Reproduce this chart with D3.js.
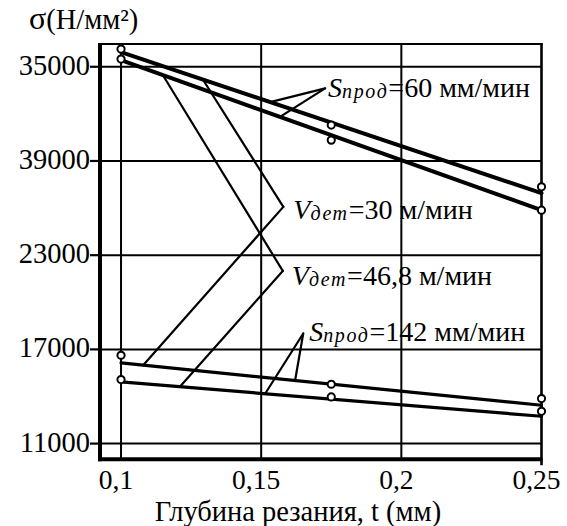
<!DOCTYPE html>
<html>
<head>
<meta charset="utf-8">
<script src="https://cdn.jsdelivr.net/npm/d3@7"></script>
<style>
  html, body { margin: 0; padding: 0; background: #fff; }
  svg { display: block; }
  svg text { font-family: "Liberation Serif", "Times New Roman", serif; fill: #000; }
</style>
</head>
<body>
<div id="chart"></div>
<script>
// ---------- data ----------
const depth = [0.1, 0.175, 0.25];                 // t, mm (measured points)
const xTicks = [0.1, 0.15, 0.2, 0.25];
const yTicks = [11000, 17000, 23000, 29000, 35000];
const yTickLabels = ["11000", "17000", "23000", "39000", "35000"]; // as printed

// measured points (circles)
const s60a  = [36127, 31284, 27352];
const s60b  = [35490, 30328, 25868];
const s142a = [16627, 14779, 13868];
const s142b = [15079, 13970, 13058];

// straight lines drawn through the points (values at t = 0.1 and t = 0.25)
const lineT = [0.1, 0.25];
const fitS60a  = [35936, 26951];
const fitS60b  = [35426, 25868];
const fitS142a = [16136, 13441];
const fitS142b = [14926, 12740];

// annotation labels
const labelMain = ["S", "V", "V", "S"];
const labelSub  = ["прод", "дет", "дет", "прод"];
const labelRest = ["=60 мм/мин", "=30 м/мин", "=46,8 м/мин", "=142 мм/мин"];
// apex of each leader (t, sigma)
const apexT = [0.1728, 0.1579, 0.1577, 0.1650];
const apexV = [33623, 26078, 21999, 18010];
// leader targets: which fitted line and at which t
const leaderLine = [["a60", "b60"], ["a60", "a142"], ["b60", "b142"], ["a142", "b142"]];
const leaderT    = [[0.1532, 0.1567], [0.1292, 0.1079], [0.1149, 0.1210], [0.1621, 0.1514]];

const xTitle = "Глубина резания, t (мм)";
const yTitle = "(Н/мм²)";

// ---------- layout ----------
const W = 567, H = 526;
const L = 100, R = 541.5, T = 44, B = 459.3;

const svg = d3.select("#chart").append("svg").attr("width", W).attr("height", H);

const x = d3.scaleLinear().domain([0.0925, 0.25]).range([L, R]);
const y = d3.scaleLinear().domain([10000, 36450]).range([B, T]);

const fits = { a60: fitS60a, b60: fitS60b, a142: fitS142a, b142: fitS142b };
const fitAt = (key, t) => d3.scaleLinear().domain(lineT).range(fits[key])(t);

// grid
const g = svg.append("g");
g.selectAll("line.hg").data(yTicks).join("line")
  .attr("class", "hg")
  .attr("x1", L).attr("x2", R)
  .attr("y1", d => y(d)).attr("y2", d => y(d))
  .attr("stroke", "#000").attr("stroke-width", 2);
g.selectAll("line.vg").data(xTicks.slice(0, 3)).join("line")
  .attr("class", "vg")
  .attr("x1", d => x(d)).attr("x2", d => x(d))
  .attr("y1", T).attr("y2", B)
  .attr("stroke", "#000").attr("stroke-width", 2);

// left ticks
g.selectAll("line.yt").data(yTicks).join("line")
  .attr("class", "yt")
  .attr("x1", L - 10).attr("x2", L)
  .attr("y1", d => y(d)).attr("y2", d => y(d))
  .attr("stroke", "#000").attr("stroke-width", 2.2);

// frame
g.append("line").attr("x1", L).attr("x2", R + 1).attr("y1", T).attr("y2", T)
  .attr("stroke", "#000").attr("stroke-width", 2.2);
g.append("line").attr("x1", R).attr("x2", R).attr("y1", T - 1).attr("y2", B + 6)
  .attr("stroke", "#000").attr("stroke-width", 2.6);
g.append("line").attr("x1", L).attr("x2", L).attr("y1", T - 1).attr("y2", B + 2)
  .attr("stroke", "#000").attr("stroke-width", 4);
g.append("line").attr("x1", L - 2).attr("x2", R + 1).attr("y1", B).attr("y2", B)
  .attr("stroke", "#000").attr("stroke-width", 4);

// tick labels
svg.selectAll("text.yl").data(yTicks).join("text")
  .attr("class", "yl")
  .attr("x", L - 10).attr("y", d => y(d) + 8)
  .attr("text-anchor", "end").attr("font-size", 28.5)
  .text((d, i) => yTickLabels[i]);
svg.selectAll("text.xl").data(xTicks).join("text")
  .attr("class", "xl")
  .attr("x", d => x(d) - 5).attr("y", 489)
  .attr("text-anchor", "middle").attr("font-size", 27.5)
  .text(d => String(d).replace(".", ","));

// titles
svg.append("text").attr("x", 298).attr("y", 521).attr("text-anchor", "middle")
  .attr("font-size", 28.5).text(xTitle);
const yt = svg.append("text").attr("x", 29).attr("y", 29).attr("font-size", 28.5);
yt.append("tspan").attr("font-size", 32).text("σ");
yt.append("tspan").text(yTitle);

// fitted lines
const fitList = [
  { f: fitS60a, w: 4 }, { f: fitS60b, w: 4 },
  { f: fitS142a, w: 3.2 }, { f: fitS142b, w: 3.2 }
];
svg.selectAll("line.fit").data(fitList).join("line")
  .attr("class", "fit")
  .attr("x1", x(lineT[0])).attr("x2", x(lineT[1]))
  .attr("y1", d => y(d.f[0])).attr("y2", d => y(d.f[1]))
  .attr("stroke", "#000").attr("stroke-width", d => d.w).attr("stroke-linecap", "round");

// leaders
const leaders = [];
apexT.forEach((at, i) => {
  leaderLine[i].forEach((key, j) => {
    const tt = leaderT[i][j];
    leaders.push({ x1: x(at), y1: y(apexV[i]), x2: x(tt), y2: y(fitAt(key, tt)) });
  });
});
svg.selectAll("line.lead").data(leaders).join("line")
  .attr("class", "lead")
  .attr("x1", d => d.x1).attr("y1", d => d.y1)
  .attr("x2", d => d.x2).attr("y2", d => d.y2)
  .attr("stroke", "#000").attr("stroke-width", 2.2).attr("stroke-linecap", "round");

// circles
const pts = [];
[s60a, s60b, s142a, s142b].forEach(s => s.forEach((v, i) => pts.push({ t: depth[i], v })));
svg.selectAll("circle.pt").data(pts).join("circle")
  .attr("class", "pt")
  .attr("cx", d => x(d.t)).attr("cy", d => y(d.v)).attr("r", 3.6)
  .attr("fill", "#fff").attr("stroke", "#000").attr("stroke-width", 2);

// labels
const offs = [[3, 8.5], [10, 12], [9, 14], [6, 7.5]];
labelMain.forEach((m, i) => {
  const t = svg.append("text")
    .attr("x", x(apexT[i]) + offs[i][0]).attr("y", y(apexV[i]) + offs[i][1])
    .attr("font-size", 28);
  t.append("tspan").attr("font-style", "italic").text(m);
  t.append("tspan").attr("font-style", "italic").attr("font-size", 20)
    .attr("letter-spacing", 1.6).attr("dy", 1).text(labelSub[i]);
  t.append("tspan").attr("dy", -1).text(labelRest[i]);
});
</script>
</body>
</html>
